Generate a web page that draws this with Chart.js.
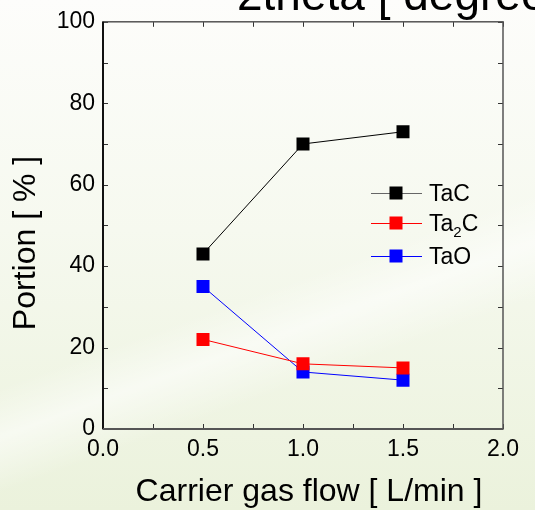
<!DOCTYPE html>
<html>
<head>
<meta charset="utf-8">
<script src="https://cdn.jsdelivr.net/npm/chart.js@4/dist/chart.umd.min.js"></script>
<style>
  html, body { margin: 0; padding: 0; }
  body {
    width: 535px; height: 510px; overflow: hidden;
    background:
      linear-gradient(160deg, rgba(255,255,255,0) 55%, rgba(255,255,255,0.55) 62%, rgba(255,255,255,0) 70%),
      linear-gradient(180deg, #fdfdfb 0%, #f6f9ef 45%, #ebf2dc 100%);
  }
  #wrap { position: relative; width: 535px; height: 510px; }
</style>
</head>
<body>
<div id="wrap"><canvas id="chart" width="535" height="510"></canvas></div>
<script>
// carrier gas flow [L/min]
const flows = [0.5, 1.0, 1.5];
// portion [%]
const tacValues = [43, 70, 73];
const ta2cValues = [22, 16, 15];
const taoValues = [35, 14, 12];

const seriesNames = ["TaC", "Ta2C", "TaO"];
const seriesColors = ["#000000", "#ff0000", "#0000ff"];

const xTicks = [0, 0.5, 1.0, 1.5, 2.0];
const yTicks = [0, 20, 40, 60, 80, 100];

const FONT = "'Liberation Sans', Arial, sans-serif";

function toPoints(values) {
  return flows.map((x, i) => ({ x, y: values[i] }));
}

// inside tick marks + frame, like the original plotting software
const framePlugin = {
  id: "frame",
  afterDatasetsDraw(chart) {
    const { ctx, chartArea: a, scales } = chart;
    ctx.save();
    ctx.strokeStyle = "#333";
    ctx.lineWidth = 1;
    const xs = scales.x, ys = scales.y;
    for (let v = 0; v <= 2.0001; v += 0.25) {
      const px = Math.round(xs.getPixelForValue(v)) + 0.5;
      const len = 5;
      ctx.beginPath();
      ctx.moveTo(px, a.bottom); ctx.lineTo(px, a.bottom - len);
      ctx.moveTo(px, a.top); ctx.lineTo(px, a.top + len);
      ctx.stroke();
    }
    for (let v = 0; v <= 100; v += 10) {
      const py = Math.round(ys.getPixelForValue(v)) + 0.5;
      const len = 5;
      ctx.beginPath();
      ctx.moveTo(a.left, py); ctx.lineTo(a.left + len, py);
      ctx.moveTo(a.right, py); ctx.lineTo(a.right - len, py);
      ctx.stroke();
    }
    ctx.lineWidth = 1.5;
    ctx.strokeStyle = "#555";
    ctx.strokeRect(a.left, a.top, a.right - a.left, a.bottom - a.top);
    ctx.lineWidth = 2;
    ctx.strokeStyle = "#111";
    ctx.beginPath();
    ctx.moveTo(a.left, a.top); ctx.lineTo(a.left, a.bottom);
    ctx.stroke();
    ctx.strokeStyle = "#555";
    ctx.beginPath();
    ctx.moveTo(a.left, a.bottom); ctx.lineTo(a.right, a.bottom);
    ctx.stroke();
    ctx.restore();
  }
};

// legend inside the plot, line through marker, subscript in Ta2C
const legendPlugin = {
  id: "insideLegend",
  afterDatasetsDraw(chart) {
    const { ctx } = chart;
    const rows = [193, 223, 256];
    const x0 = 371, x1 = 422, xm = 396, s = 13;
    ctx.save();
    chart.data.datasets.forEach((ds, i) => {
      const y = rows[i];
      ctx.strokeStyle = i === 0 ? "#666" : ds.borderColor;
      ctx.lineWidth = 1;
      ctx.beginPath();
      ctx.moveTo(x0, y + 0.5); ctx.lineTo(x1, y + 0.5);
      ctx.stroke();
      ctx.fillStyle = ds.backgroundColor;
      ctx.fillRect(xm - s / 2, y - s / 2, s, s);
      ctx.fillStyle = "#000";
      ctx.textBaseline = "alphabetic";
      ctx.font = "23px " + FONT;
      const base = y + 8;
      const name = ds.label;
      if (name === "Ta2C") {
        ctx.fillText("Ta", 429, base);
        const w = ctx.measureText("Ta").width;
        ctx.font = "15px " + FONT;
        ctx.fillText("2", 429 + w, base + 6);
        const w2 = ctx.measureText("2").width;
        ctx.font = "23px " + FONT;
        ctx.fillText("C", 429 + w + w2, base);
      } else {
        ctx.fillText(name, 429, base);
      }
    });
    ctx.restore();
  }
};

// axis titles sit a little off the axis centres in the original
const sideTextPlugin = {
  id: "sideText",
  afterDraw(chart) {
    const { ctx } = chart;
    ctx.save();
    ctx.fillStyle = "#000";
    ctx.font = "32px " + FONT;
    ctx.textAlign = "center";
    ctx.textBaseline = "middle";
    ctx.fillText("Carrier gas flow [ L/min ]", 309, 492);
    ctx.translate(26, 243);
    ctx.rotate(-Math.PI / 2);
    ctx.fillText("Portion [ % ]", 0, 0);
    ctx.restore();

    // clipped heading at the very top of the slide
    ctx.save();
    ctx.fillStyle = "#000";
    ctx.font = "46px " + FONT;
    ctx.textBaseline = "alphabetic";
    ctx.fillText("2theta [ degree ]", 237, 10);
    ctx.restore();
  }
};

const valueSets = [tacValues, ta2cValues, taoValues];

new Chart(document.getElementById("chart"), {
  type: "scatter",
  data: {
    datasets: valueSets.map((vals, i) => ({
      label: seriesNames[i],
      data: toPoints(vals),
      showLine: true,
      borderColor: seriesColors[i],
      backgroundColor: seriesColors[i],
      borderWidth: 1,
      pointStyle: "rect",
      pointRadius: 9.2,
      pointBorderWidth: 0,
      pointHoverRadius: 9.2,
    })),
  },
  options: {
    responsive: false,
    animation: false,
    layout: { padding: { top: 19, right: 32, left: 0, bottom: 0 } },
    plugins: {
      legend: { display: false },
      tooltip: { enabled: false },
    },
    scales: {
      x: {
        type: "linear",
        min: 0, max: 2,
        afterBuildTicks: (s) => { s.ticks = xTicks.map((v) => ({ value: v })); },
        afterFit: (s) => { s.height = 81; },
        grid: { display: false, drawTicks: false },
        border: { display: false },
        ticks: {
          color: "#000",
          font: { family: FONT, size: 23 },
          padding: 7,
          maxRotation: 0,
          callback: (v) => v.toFixed(1),
        },
        title: { display: false },
      },
      y: {
        min: 0, max: 100,
        afterBuildTicks: (s) => { s.ticks = yTicks.map((v) => ({ value: v })); },
        afterFit: (s) => { s.width = 103; },
        grid: { display: false, drawTicks: false },
        border: { display: false },
        ticks: {
          color: "#000",
          font: { family: FONT, size: 23 },
          padding: 8,
        },
        title: { display: false },
      },
    },
  },
  plugins: [framePlugin, legendPlugin, sideTextPlugin],
});
</script>
</body>
</html>
